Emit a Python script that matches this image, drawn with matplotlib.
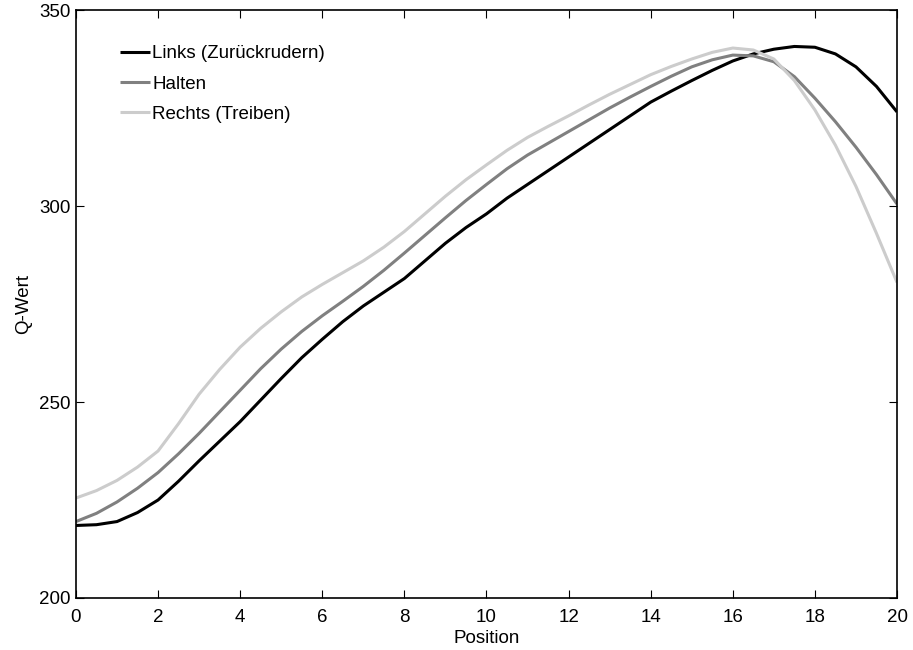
import matplotlib

matplotlib.use("Agg")
import matplotlib.pyplot as plt

# Q-values per position, every half step
position = [i / 2 for i in range(41)]
q_links = [218.5, 218.7, 219.5, 221.8, 225.0, 229.8, 235.0, 240.0, 245.0, 250.5,
           256.0, 261.3, 266.0, 270.5, 274.5, 278.0, 281.5, 286.0, 290.5, 294.5,
           298.0, 302.0, 305.5, 309.0, 312.5, 316.0, 319.5, 323.0, 326.5, 329.3,
           332.0, 334.6, 337.0, 338.8, 340.0, 340.7, 340.5, 338.8, 335.5, 330.5,
           324.0]
q_halten = [219.5, 221.6, 224.5, 228.0, 232.0, 236.8, 242.0, 247.5, 253.0, 258.5,
            263.5, 268.0, 272.0, 275.7, 279.5, 283.6, 288.0, 292.5, 297.0, 301.4,
            305.5, 309.5, 313.0, 316.0, 319.0, 322.0, 325.0, 327.8, 330.5, 333.1,
            335.5, 337.3, 338.5, 338.3, 336.8, 333.0, 327.5, 321.5, 315.0, 308.0,
            300.5]
q_rechts = [225.5, 227.4, 230.0, 233.4, 237.5, 244.5, 252.0, 258.3, 264.0, 268.8,
            273.0, 276.8, 280.0, 283.0, 286.0, 289.5, 293.5, 298.0, 302.5, 306.7,
            310.5, 314.2, 317.5, 320.3, 323.0, 325.8, 328.5, 331.0, 333.5, 335.6,
            337.5, 339.2, 340.3, 339.8, 337.5, 332.0, 324.5, 315.5, 305.0, 293.0,
            280.5]

labels = ["Links (Zurückrudern)", "Halten", "Rechts (Treiben)"]
colors = ["#000000", "#808080", "#cccccc"]

plt.rcParams["font.family"] = ["Liberation Sans", "DejaVu Sans"]
fs = 13.5

fig = plt.figure(figsize=(9.13, 6.5), dpi=100)
ax = fig.add_axes([0.0832, 0.08, 0.8993, 0.9046])

for q, label, color in zip([q_links, q_halten, q_rechts], labels, colors):
    ax.plot(position, q, color=color, lw=2.2, label=label, solid_capstyle="butt")

ax.set_xlim(0, 20)
ax.set_ylim(200, 350)
ax.set_xticks(range(0, 21, 2))
ax.set_yticks([200, 250, 300, 350])
ax.tick_params(direction="in", length=6, width=0.8, top=True, right=True,
               labelsize=fs, colors="black")
ax.tick_params(axis="x", pad=8)
ax.tick_params(axis="y", pad=4)
for spine in ax.spines.values():
    spine.set_linewidth(1.2)

ax.set_xlabel("Position", fontsize=fs, labelpad=3)
ax.set_ylabel("Q-Wert", fontsize=fs, labelpad=5)

ax.legend(loc="upper left", bbox_to_anchor=(0.045, 0.953), frameon=False,
          handlelength=1.6, handletextpad=0.1, labelspacing=0.7,
          borderaxespad=0, fontsize=fs)

fig.savefig("out.png", dpi=100)
